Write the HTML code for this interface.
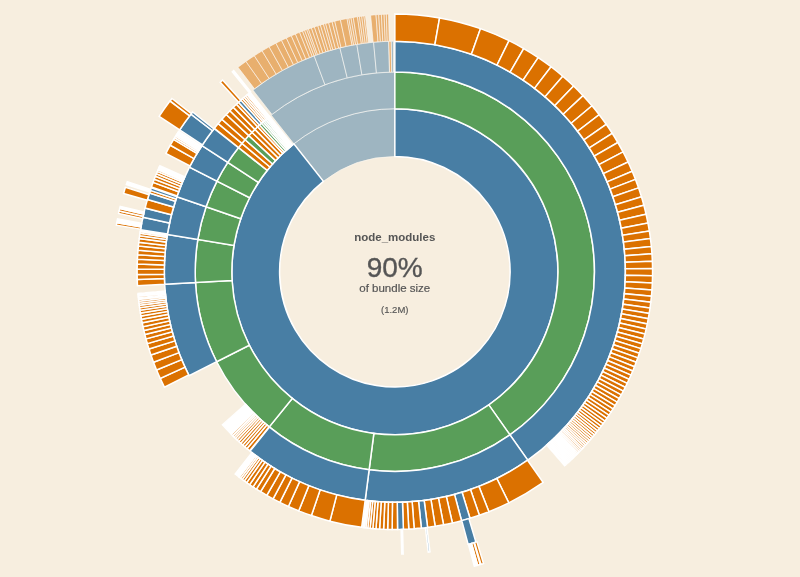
<!DOCTYPE html>
<html><head><meta charset="utf-8"><style>
html,body{margin:0;padding:0;width:800px;height:577px;overflow:hidden;background:#f7eedf;}
svg{position:absolute;left:0;top:0;}
path{stroke:#fff;stroke-width:1.5;} .f{opacity:0.5;stroke-width:0.7;}
.t{position:absolute;left:0;width:789.5px;-webkit-font-smoothing:antialiased;will-change:transform;text-align:center;font-family:"Liberation Sans",sans-serif;color:#555;}
</style></head><body>
<svg width="800" height="577" viewBox="0 0 800 577">
<path d="M293.83,143.83A163.00,163.00 0 0 1 394.85,108.75L394.85,156.49A115.26,115.26 0 0 0 323.42,181.30Z" fill="#487ea4" class="f"/>
<path d="M271.12,115.08A199.63,199.63 0 0 1 394.85,72.12L394.85,108.75A163.00,163.00 0 0 0 293.83,143.83Z" fill="#487ea4" class="f"/>
<path d="M252.93,90.10A230.52,230.52 0 0 1 314.12,55.83L324.94,84.76A199.63,199.63 0 0 0 271.94,114.44Z" fill="#487ea4" class="f"/>
<path d="M314.12,55.83A230.52,230.52 0 0 1 339.86,47.89L347.23,77.88A199.63,199.63 0 0 0 324.94,84.76Z" fill="#487ea4" class="f"/>
<path d="M339.86,47.89A230.52,230.52 0 0 1 356.80,44.39L361.90,74.85A199.63,199.63 0 0 0 347.23,77.88Z" fill="#487ea4" class="f"/>
<path d="M356.80,44.39A230.52,230.52 0 0 1 373.56,42.22L376.41,72.97A199.63,199.63 0 0 0 361.90,74.85Z" fill="#487ea4" class="f"/>
<path d="M373.56,42.22A230.52,230.52 0 0 1 388.61,41.32L389.45,72.19A199.63,199.63 0 0 0 376.41,72.97Z" fill="#487ea4" class="f"/>
<path d="M388.82,41.31A230.52,230.52 0 0 1 391.15,41.26L391.64,72.14A199.63,199.63 0 0 0 389.62,72.18Z" fill="#db7100" class="f"/>
<path d="M391.31,41.26A230.52,230.52 0 0 1 393.32,41.24L393.53,72.12A199.63,199.63 0 0 0 391.78,72.14Z" fill="#487ea4" class="f"/>
<path d="M237.96,67.28A257.73,257.73 0 0 1 245.92,61.41L261.64,83.62A230.52,230.52 0 0 0 254.52,88.87Z" fill="#db7100" class="f"/>
<path d="M245.92,61.41A257.73,257.73 0 0 1 254.29,55.73L269.13,78.53A230.52,230.52 0 0 0 261.64,83.62Z" fill="#db7100" class="f"/>
<path d="M254.29,55.73A257.73,257.73 0 0 1 262.11,50.84L276.13,74.16A230.52,230.52 0 0 0 269.13,78.53Z" fill="#db7100" class="f"/>
<path d="M262.11,50.84A257.73,257.73 0 0 1 269.12,46.78L282.39,70.53A230.52,230.52 0 0 0 276.13,74.16Z" fill="#db7100" class="f"/>
<path d="M269.12,46.78A257.73,257.73 0 0 1 275.85,43.14L288.41,67.28A230.52,230.52 0 0 0 282.39,70.53Z" fill="#db7100" class="f"/>
<path d="M275.85,43.14A257.73,257.73 0 0 1 281.47,40.31L293.44,64.74A230.52,230.52 0 0 0 288.41,67.28Z" fill="#db7100" class="f"/>
<path d="M281.47,40.31A257.73,257.73 0 0 1 286.34,37.98L297.79,62.66A230.52,230.52 0 0 0 293.44,64.74Z" fill="#db7100" class="f"/>
<path d="M286.34,37.98A257.73,257.73 0 0 1 291.26,35.76L302.19,60.67A230.52,230.52 0 0 0 297.79,62.66Z" fill="#db7100" class="f"/>
<path d="M291.26,35.76A257.73,257.73 0 0 1 295.39,33.99L305.89,59.09A230.52,230.52 0 0 0 302.19,60.67Z" fill="#db7100" class="f"/>
<path d="M295.39,33.99A257.73,257.73 0 0 1 299.56,32.29L309.62,57.57A230.52,230.52 0 0 0 305.89,59.09Z" fill="#db7100" class="f"/>
<path d="M299.56,32.29A257.73,257.73 0 0 1 302.49,31.14L312.24,56.54A230.52,230.52 0 0 0 309.62,57.57Z" fill="#db7100" class="f"/>
<path d="M302.49,31.14A257.73,257.73 0 0 1 304.59,30.35L314.12,55.83A230.52,230.52 0 0 0 312.24,56.54Z" fill="#db7100" class="f"/>
<path d="M304.59,30.35A257.73,257.73 0 0 1 306.70,29.57L316.01,55.14A230.52,230.52 0 0 0 314.12,55.83Z" fill="#db7100" class="f"/>
<path d="M306.70,29.57A257.73,257.73 0 0 1 308.40,28.96L317.52,54.59A230.52,230.52 0 0 0 316.01,55.14Z" fill="#db7100" class="f"/>
<path d="M308.40,28.96A257.73,257.73 0 0 1 311.37,27.92L320.18,53.66A230.52,230.52 0 0 0 317.52,54.59Z" fill="#db7100" class="f"/>
<path d="M311.37,27.92A257.73,257.73 0 0 1 314.35,26.92L322.85,52.77A230.52,230.52 0 0 0 320.18,53.66Z" fill="#db7100" class="f"/>
<path d="M314.35,26.92A257.73,257.73 0 0 1 317.78,25.82L325.92,51.78A230.52,230.52 0 0 0 322.85,52.77Z" fill="#db7100" class="f"/>
<path d="M317.78,25.82A257.73,257.73 0 0 1 320.36,25.02L328.22,51.07A230.52,230.52 0 0 0 325.92,51.78Z" fill="#db7100" class="f"/>
<path d="M320.36,25.02A257.73,257.73 0 0 1 323.38,24.13L330.92,50.27A230.52,230.52 0 0 0 328.22,51.07Z" fill="#db7100" class="f"/>
<path d="M323.38,24.13A257.73,257.73 0 0 1 325.54,23.52L332.86,49.72A230.52,230.52 0 0 0 330.92,50.27Z" fill="#db7100" class="f"/>
<path d="M325.54,23.52A257.73,257.73 0 0 1 328.58,22.69L335.58,48.98A230.52,230.52 0 0 0 332.86,49.72Z" fill="#db7100" class="f"/>
<path d="M328.58,22.69A257.73,257.73 0 0 1 332.06,21.79L338.69,48.18A230.52,230.52 0 0 0 335.58,48.98Z" fill="#db7100" class="f"/>
<path d="M332.06,21.79A257.73,257.73 0 0 1 334.69,21.15L341.04,47.60A230.52,230.52 0 0 0 338.69,48.18Z" fill="#db7100" class="f"/>
<path d="M334.69,21.15A257.73,257.73 0 0 1 340.39,19.84L346.14,46.44A230.52,230.52 0 0 0 341.04,47.60Z" fill="#db7100" class="f"/>
<path d="M340.39,19.84A257.73,257.73 0 0 1 347.00,18.51L352.05,45.24A230.52,230.52 0 0 0 346.14,46.44Z" fill="#db7100" class="f"/>
<path d="M347.00,18.51A257.73,257.73 0 0 1 348.77,18.18L353.63,44.95A230.52,230.52 0 0 0 352.05,45.24Z" fill="#db7100" class="f"/>
<path d="M348.77,18.18A257.73,257.73 0 0 1 350.98,17.79L355.61,44.60A230.52,230.52 0 0 0 353.63,44.95Z" fill="#db7100" class="f"/>
<path d="M350.98,17.79A257.73,257.73 0 0 1 353.20,17.41L357.60,44.26A230.52,230.52 0 0 0 355.61,44.60Z" fill="#db7100" class="f"/>
<path d="M353.20,17.41A257.73,257.73 0 0 1 357.42,16.76L361.37,43.68A230.52,230.52 0 0 0 357.60,44.26Z" fill="#db7100" class="f"/>
<path d="M357.42,16.76A257.73,257.73 0 0 1 359.43,16.47L363.17,43.42A230.52,230.52 0 0 0 361.37,43.68Z" fill="#db7100" class="f"/>
<path d="M359.43,16.47A257.73,257.73 0 0 1 361.66,16.17L365.16,43.15A230.52,230.52 0 0 0 363.17,43.42Z" fill="#db7100" class="f"/>
<path d="M361.66,16.17A257.73,257.73 0 0 1 363.89,15.89L367.16,42.90A230.52,230.52 0 0 0 365.16,43.15Z" fill="#db7100" class="f"/>
<path d="M363.89,15.89A257.73,257.73 0 0 1 365.45,15.71L368.55,42.74A230.52,230.52 0 0 0 367.16,42.90Z" fill="#db7100" class="f"/>
<path d="M370.60,15.17A257.73,257.73 0 0 1 375.97,14.72L377.97,41.85A230.52,230.52 0 0 0 373.16,42.26Z" fill="#db7100" class="f"/>
<path d="M375.97,14.72A257.73,257.73 0 0 1 378.67,14.53L380.38,41.69A230.52,230.52 0 0 0 377.97,41.85Z" fill="#db7100" class="f"/>
<path d="M378.67,14.53A257.73,257.73 0 0 1 381.36,14.38L382.79,41.55A230.52,230.52 0 0 0 380.38,41.69Z" fill="#db7100" class="f"/>
<path d="M381.36,14.38A257.73,257.73 0 0 1 384.06,14.25L385.20,41.44A230.52,230.52 0 0 0 382.79,41.55Z" fill="#db7100" class="f"/>
<path d="M384.06,14.25A257.73,257.73 0 0 1 386.31,14.17L387.21,41.36A230.52,230.52 0 0 0 385.20,41.44Z" fill="#db7100" class="f"/>
<path d="M386.31,14.17A257.73,257.73 0 0 1 388.55,14.10L389.22,41.30A230.52,230.52 0 0 0 387.21,41.36Z" fill="#db7100" class="f"/>
<path d="M394.85,108.75A163.00,163.00 0 1 1 293.83,143.83L323.42,181.30A115.26,115.26 0 1 0 394.85,156.49Z" fill="#487ea4"/>
<path d="M394.85,72.12A199.63,199.63 0 0 1 509.93,434.88L488.81,404.94A163.00,163.00 0 0 0 394.85,108.75Z" fill="#599e59"/>
<path d="M394.85,41.23A230.52,230.52 0 0 1 527.73,460.12L509.93,434.88A199.63,199.63 0 0 0 394.85,72.12Z" fill="#487ea4"/>
<path d="M394.85,14.02A257.73,257.73 0 0 1 439.60,17.94L434.88,44.74A230.52,230.52 0 0 0 394.85,41.23Z" fill="#db7100"/>
<path d="M439.60,17.94A257.73,257.73 0 0 1 480.46,28.66L471.42,54.32A230.52,230.52 0 0 0 434.88,44.74Z" fill="#db7100"/>
<path d="M480.46,28.66A257.73,257.73 0 0 1 509.04,40.70L496.99,65.09A230.52,230.52 0 0 0 471.42,54.32Z" fill="#db7100"/>
<path d="M509.04,40.70A257.73,257.73 0 0 1 523.71,48.55L510.11,72.12A230.52,230.52 0 0 0 496.99,65.09Z" fill="#db7100"/>
<path d="M523.71,48.55A257.73,257.73 0 0 1 538.22,57.58L523.09,80.19A230.52,230.52 0 0 0 510.11,72.12Z" fill="#db7100"/>
<path d="M538.22,57.58A257.73,257.73 0 0 1 551.03,66.74L534.54,88.38A230.52,230.52 0 0 0 523.09,80.19Z" fill="#db7100"/>
<path d="M551.03,66.74A257.73,257.73 0 0 1 562.74,76.21L545.02,96.86A230.52,230.52 0 0 0 534.54,88.38Z" fill="#db7100"/>
<path d="M562.74,76.21A257.73,257.73 0 0 1 573.56,86.05L554.69,105.65A230.52,230.52 0 0 0 545.02,96.86Z" fill="#db7100"/>
<path d="M573.56,86.05A257.73,257.73 0 0 1 583.03,95.65L563.16,114.24A230.52,230.52 0 0 0 554.69,105.65Z" fill="#db7100"/>
<path d="M583.03,95.65A257.73,257.73 0 0 1 591.99,105.74L571.18,123.27A230.52,230.52 0 0 0 563.16,114.24Z" fill="#db7100"/>
<path d="M591.99,105.74A257.73,257.73 0 0 1 599.18,114.68L577.61,131.26A230.52,230.52 0 0 0 571.18,123.27Z" fill="#db7100"/>
<path d="M599.18,114.68A257.73,257.73 0 0 1 606.22,124.29L583.91,139.86A230.52,230.52 0 0 0 577.61,131.26Z" fill="#db7100"/>
<path d="M606.22,124.29A257.73,257.73 0 0 1 612.21,133.27L589.27,147.89A230.52,230.52 0 0 0 583.91,139.86Z" fill="#db7100"/>
<path d="M612.21,133.27A257.73,257.73 0 0 1 617.82,142.50L594.28,156.14A230.52,230.52 0 0 0 589.27,147.89Z" fill="#db7100"/>
<path d="M617.82,142.50A257.73,257.73 0 0 1 623.04,151.95L598.95,164.60A230.52,230.52 0 0 0 594.28,156.14Z" fill="#db7100"/>
<path d="M623.04,151.95A257.73,257.73 0 0 1 628.05,162.02L603.43,173.60A230.52,230.52 0 0 0 598.95,164.60Z" fill="#db7100"/>
<path d="M628.05,162.02A257.73,257.73 0 0 1 632.18,171.26L607.12,181.87A230.52,230.52 0 0 0 603.43,173.60Z" fill="#db7100"/>
<path d="M632.18,171.26A257.73,257.73 0 0 1 635.46,179.39L610.06,189.14A230.52,230.52 0 0 0 607.12,181.87Z" fill="#db7100"/>
<path d="M635.46,179.39A257.73,257.73 0 0 1 638.53,187.84L612.81,196.70A230.52,230.52 0 0 0 610.06,189.14Z" fill="#db7100"/>
<path d="M638.53,187.84A257.73,257.73 0 0 1 641.45,196.83L615.41,204.74A230.52,230.52 0 0 0 612.81,196.70Z" fill="#db7100"/>
<path d="M641.45,196.83A257.73,257.73 0 0 1 643.85,205.26L617.56,212.28A230.52,230.52 0 0 0 615.41,204.74Z" fill="#db7100"/>
<path d="M643.85,205.26A257.73,257.73 0 0 1 646.07,214.21L619.55,220.29A230.52,230.52 0 0 0 617.56,212.28Z" fill="#db7100"/>
<path d="M646.07,214.21A257.73,257.73 0 0 1 647.93,223.02L621.21,228.16A230.52,230.52 0 0 0 619.55,220.29Z" fill="#db7100"/>
<path d="M647.93,223.02A257.73,257.73 0 0 1 649.33,230.99L622.47,235.29A230.52,230.52 0 0 0 621.21,228.16Z" fill="#db7100"/>
<path d="M649.33,230.99A257.73,257.73 0 0 1 650.43,238.56L623.45,242.06A230.52,230.52 0 0 0 622.47,235.29Z" fill="#db7100"/>
<path d="M650.43,238.56A257.73,257.73 0 0 1 651.35,246.60L624.27,249.26A230.52,230.52 0 0 0 623.45,242.06Z" fill="#db7100"/>
<path d="M651.35,246.60A257.73,257.73 0 0 1 651.95,253.77L624.81,255.67A230.52,230.52 0 0 0 624.27,249.26Z" fill="#db7100"/>
<path d="M651.95,253.77A257.73,257.73 0 0 1 652.36,261.18L625.17,262.30A230.52,230.52 0 0 0 624.81,255.67Z" fill="#db7100"/>
<path d="M652.36,261.18A257.73,257.73 0 0 1 652.55,268.42L625.35,268.77A230.52,230.52 0 0 0 625.17,262.30Z" fill="#db7100"/>
<path d="M652.55,268.42A257.73,257.73 0 0 1 652.54,275.80L625.34,275.37A230.52,230.52 0 0 0 625.35,268.77Z" fill="#db7100"/>
<path d="M652.54,275.80A257.73,257.73 0 0 1 652.33,282.99L625.15,281.81A230.52,230.52 0 0 0 625.34,275.37Z" fill="#db7100"/>
<path d="M652.33,282.99A257.73,257.73 0 0 1 651.94,289.91L624.79,287.99A230.52,230.52 0 0 0 625.15,281.81Z" fill="#db7100"/>
<path d="M651.94,289.91A257.73,257.73 0 0 1 651.41,296.27L624.32,293.68A230.52,230.52 0 0 0 624.79,287.99Z" fill="#db7100"/>
<path d="M651.41,296.27A257.73,257.73 0 0 1 650.77,302.18L623.75,298.96A230.52,230.52 0 0 0 624.32,293.68Z" fill="#db7100"/>
<path d="M650.77,302.18A257.73,257.73 0 0 1 650.01,308.02L623.07,304.19A230.52,230.52 0 0 0 623.75,298.96Z" fill="#db7100"/>
<path d="M650.01,308.02A257.73,257.73 0 0 1 649.19,313.40L622.34,309.00A230.52,230.52 0 0 0 623.07,304.19Z" fill="#db7100"/>
<path d="M649.19,313.40A257.73,257.73 0 0 1 648.26,318.72L621.51,313.76A230.52,230.52 0 0 0 622.34,309.00Z" fill="#db7100"/>
<path d="M648.26,318.72A257.73,257.73 0 0 1 647.24,323.94L620.59,318.43A230.52,230.52 0 0 0 621.51,313.76Z" fill="#db7100"/>
<path d="M647.24,323.94A257.73,257.73 0 0 1 646.12,329.07L619.59,323.02A230.52,230.52 0 0 0 620.59,318.43Z" fill="#db7100"/>
<path d="M646.12,329.07A257.73,257.73 0 0 1 644.92,334.10L618.52,327.52A230.52,230.52 0 0 0 619.59,323.02Z" fill="#db7100"/>
<path d="M644.92,334.10A257.73,257.73 0 0 1 643.64,339.04L617.37,331.93A230.52,230.52 0 0 0 618.52,327.52Z" fill="#db7100"/>
<path d="M643.64,339.04A257.73,257.73 0 0 1 642.28,343.88L616.16,336.26A230.52,230.52 0 0 0 617.37,331.93Z" fill="#db7100"/>
<path d="M642.28,343.88A257.73,257.73 0 0 1 640.84,348.63L614.87,340.51A230.52,230.52 0 0 0 616.16,336.26Z" fill="#db7100"/>
<path d="M640.84,348.63A257.73,257.73 0 0 1 639.34,353.28L613.53,344.67A230.52,230.52 0 0 0 614.87,340.51Z" fill="#db7100"/>
<path d="M639.34,353.28A257.73,257.73 0 0 1 637.77,357.84L612.13,348.75A230.52,230.52 0 0 0 613.53,344.67Z" fill="#db7100"/>
<path d="M637.77,357.84A257.73,257.73 0 0 1 636.14,362.30L610.67,352.74A230.52,230.52 0 0 0 612.13,348.75Z" fill="#db7100"/>
<path d="M636.14,362.30A257.73,257.73 0 0 1 634.45,366.68L609.16,356.66A230.52,230.52 0 0 0 610.67,352.74Z" fill="#db7100"/>
<path d="M634.45,366.68A257.73,257.73 0 0 1 632.71,370.97L607.60,360.50A230.52,230.52 0 0 0 609.16,356.66Z" fill="#db7100"/>
<path d="M632.71,370.97A257.73,257.73 0 0 1 630.91,375.18L605.99,364.26A230.52,230.52 0 0 0 607.60,360.50Z" fill="#db7100"/>
<path d="M630.91,375.18A257.73,257.73 0 0 1 629.06,379.30L604.34,367.95A230.52,230.52 0 0 0 605.99,364.26Z" fill="#db7100"/>
<path d="M629.06,379.30A257.73,257.73 0 0 1 627.17,383.34L602.64,371.56A230.52,230.52 0 0 0 604.34,367.95Z" fill="#db7100"/>
<path d="M627.17,383.34A257.73,257.73 0 0 1 625.22,387.29L600.90,375.09A230.52,230.52 0 0 0 602.64,371.56Z" fill="#db7100"/>
<path d="M625.22,387.29A257.73,257.73 0 0 1 623.24,391.16L599.13,378.56A230.52,230.52 0 0 0 600.90,375.09Z" fill="#db7100"/>
<path d="M623.24,391.16A257.73,257.73 0 0 1 621.22,394.95L597.32,381.95A230.52,230.52 0 0 0 599.13,378.56Z" fill="#db7100"/>
<path d="M621.22,394.95A257.73,257.73 0 0 1 619.18,398.64L595.49,385.24A230.52,230.52 0 0 0 597.32,381.95Z" fill="#db7100"/>
<path d="M619.18,398.64A257.73,257.73 0 0 1 617.13,402.19L593.66,388.42A230.52,230.52 0 0 0 595.49,385.24Z" fill="#db7100"/>
<path d="M617.13,402.19A257.73,257.73 0 0 1 615.08,405.63L591.83,391.49A230.52,230.52 0 0 0 593.66,388.42Z" fill="#db7100"/>
<path d="M615.08,405.63A257.73,257.73 0 0 1 613.02,408.95L589.99,394.46A230.52,230.52 0 0 0 591.83,391.49Z" fill="#db7100"/>
<path d="M613.02,408.95A257.73,257.73 0 0 1 610.97,412.15L588.16,397.33A230.52,230.52 0 0 0 589.99,394.46Z" fill="#db7100"/>
<path d="M610.97,412.15A257.73,257.73 0 0 1 608.93,415.25L586.33,400.10A230.52,230.52 0 0 0 588.16,397.33Z" fill="#db7100"/>
<path d="M608.93,415.25A257.73,257.73 0 0 1 606.89,418.24L584.51,402.77A230.52,230.52 0 0 0 586.33,400.10Z" fill="#db7100"/>
<path d="M606.89,418.24A257.73,257.73 0 0 1 604.91,421.07L582.74,405.31A230.52,230.52 0 0 0 584.51,402.77Z" fill="#db7100"/>
<path d="M604.91,421.07A257.73,257.73 0 0 1 602.99,423.73L581.02,407.69A230.52,230.52 0 0 0 582.74,405.31Z" fill="#db7100"/>
<path d="M602.99,423.73A257.73,257.73 0 0 1 601.14,426.24L579.36,409.93A230.52,230.52 0 0 0 581.02,407.69Z" fill="#db7100"/>
<path d="M601.14,426.24A257.73,257.73 0 0 1 599.35,428.60L577.76,412.04A230.52,230.52 0 0 0 579.36,409.93Z" fill="#db7100"/>
<path d="M599.35,428.60A257.73,257.73 0 0 1 597.63,430.82L576.22,414.03A230.52,230.52 0 0 0 577.76,412.04Z" fill="#db7100"/>
<path d="M597.63,430.82A257.73,257.73 0 0 1 595.96,432.92L574.73,415.91A230.52,230.52 0 0 0 576.22,414.03Z" fill="#db7100"/>
<path d="M595.96,432.92A257.73,257.73 0 0 1 594.34,434.92L573.28,417.69A230.52,230.52 0 0 0 574.73,415.91Z" fill="#db7100"/>
<path d="M594.34,434.92A257.73,257.73 0 0 1 592.77,436.82L571.88,419.40A230.52,230.52 0 0 0 573.28,417.69Z" fill="#db7100"/>
<path d="M592.77,436.82A257.73,257.73 0 0 1 591.25,438.64L570.51,421.02A230.52,230.52 0 0 0 571.88,419.40Z" fill="#db7100"/>
<path d="M591.25,438.64A257.73,257.73 0 0 1 589.76,440.36L569.19,422.56A230.52,230.52 0 0 0 570.51,421.02Z" fill="#db7100"/>
<path d="M589.76,440.36A257.73,257.73 0 0 1 588.33,442.01L567.90,424.04A230.52,230.52 0 0 0 569.19,422.56Z" fill="#db7100"/>
<path d="M588.33,442.01A257.73,257.73 0 0 1 586.93,443.59L566.65,425.44A230.52,230.52 0 0 0 567.90,424.04Z" fill="#db7100"/>
<path d="M586.93,443.59A257.73,257.73 0 0 1 585.57,445.10L565.43,426.80A230.52,230.52 0 0 0 566.65,425.44Z" fill="#db7100"/>
<path d="M585.57,445.10A257.73,257.73 0 0 1 584.24,446.55L564.24,428.10A230.52,230.52 0 0 0 565.43,426.80Z" fill="#db7100"/>
<path d="M584.24,446.55A257.73,257.73 0 0 1 582.94,447.94L563.08,429.34A230.52,230.52 0 0 0 564.24,428.10Z" fill="#db7100"/>
<path d="M582.94,447.94A257.73,257.73 0 0 1 581.68,449.28L561.95,430.54A230.52,230.52 0 0 0 563.08,429.34Z" fill="#db7100"/>
<path d="M581.68,449.28A257.73,257.73 0 0 1 580.45,450.57L560.85,431.69A230.52,230.52 0 0 0 561.95,430.54Z" fill="#db7100"/>
<path d="M580.45,450.57A257.73,257.73 0 0 1 579.25,451.80L559.78,432.79A230.52,230.52 0 0 0 560.85,431.69Z" fill="#db7100"/>
<path d="M579.25,451.80A257.73,257.73 0 0 1 578.08,452.99L558.74,433.86A230.52,230.52 0 0 0 559.78,432.79Z" fill="#db7100"/>
<path d="M578.08,452.99A257.73,257.73 0 0 1 576.94,454.14L557.72,434.88A230.52,230.52 0 0 0 558.74,433.86Z" fill="#db7100"/>
<path d="M576.94,454.14A257.73,257.73 0 0 1 575.83,455.24L556.72,435.87A230.52,230.52 0 0 0 557.72,434.88Z" fill="#db7100"/>
<path d="M575.83,455.24A257.73,257.73 0 0 1 574.74,456.31L555.75,436.82A230.52,230.52 0 0 0 556.72,435.87Z" fill="#db7100"/>
<path d="M574.74,456.31A257.73,257.73 0 0 1 573.68,457.33L554.80,437.74A230.52,230.52 0 0 0 555.75,436.82Z" fill="#db7100"/>
<path d="M573.68,457.33A257.73,257.73 0 0 1 572.65,458.33L553.88,438.63A230.52,230.52 0 0 0 554.80,437.74Z" fill="#db7100"/>
<path d="M572.65,458.33A257.73,257.73 0 0 1 571.62,459.30L552.95,439.50A230.52,230.52 0 0 0 553.88,438.63Z" fill="#db7100"/>
<path d="M571.62,459.30A257.73,257.73 0 0 1 570.59,460.27L552.04,440.36A230.52,230.52 0 0 0 552.95,439.50Z" fill="#db7100"/>
<path d="M570.59,460.27A257.73,257.73 0 0 1 569.57,461.21L551.12,441.21A230.52,230.52 0 0 0 552.04,440.36Z" fill="#db7100"/>
<path d="M569.57,461.21A257.73,257.73 0 0 1 568.56,462.14L550.22,442.04A230.52,230.52 0 0 0 551.12,441.21Z" fill="#db7100"/>
<path d="M568.56,462.14A257.73,257.73 0 0 1 567.55,463.06L549.32,442.86A230.52,230.52 0 0 0 550.22,442.04Z" fill="#db7100"/>
<path d="M567.55,463.06A257.73,257.73 0 0 1 566.55,463.96L548.42,443.66A230.52,230.52 0 0 0 549.32,442.86Z" fill="#db7100"/>
<path d="M566.55,463.96A257.73,257.73 0 0 1 565.55,464.84L547.53,444.46A230.52,230.52 0 0 0 548.42,443.66Z" fill="#db7100"/>
<path d="M565.55,464.84A257.73,257.73 0 0 1 564.61,465.67L546.69,445.19A230.52,230.52 0 0 0 547.53,444.46Z" fill="#db7100"/>
<path d="M509.93,434.88A199.63,199.63 0 0 1 369.14,469.72L373.86,433.39A163.00,163.00 0 0 0 488.81,404.94Z" fill="#599e59"/>
<path d="M527.73,460.12A230.52,230.52 0 0 1 365.16,500.35L369.14,469.72A199.63,199.63 0 0 0 509.93,434.88Z" fill="#487ea4"/>
<path d="M543.23,482.48A257.73,257.73 0 0 1 508.84,502.90L496.80,478.49A230.52,230.52 0 0 0 527.56,460.23Z" fill="#db7100"/>
<path d="M508.84,502.90A257.73,257.73 0 0 1 488.89,511.71L478.96,486.37A230.52,230.52 0 0 0 496.80,478.49Z" fill="#db7100"/>
<path d="M488.89,511.71A257.73,257.73 0 0 1 479.39,515.21L470.47,489.51A230.52,230.52 0 0 0 478.96,486.37Z" fill="#db7100"/>
<path d="M479.39,515.21A257.73,257.73 0 0 1 469.99,518.28L462.05,492.25A230.52,230.52 0 0 0 470.47,489.51Z" fill="#db7100"/>
<path d="M469.99,518.28A257.73,257.73 0 0 1 461.55,520.69L454.51,494.41A230.52,230.52 0 0 0 462.05,492.25Z" fill="#487ea4"/>
<path d="M461.55,520.69A257.73,257.73 0 0 1 452.39,522.97L446.31,496.45A230.52,230.52 0 0 0 454.51,494.41Z" fill="#db7100"/>
<path d="M452.39,522.97A257.73,257.73 0 0 1 443.58,524.83L438.44,498.11A230.52,230.52 0 0 0 446.31,496.45Z" fill="#db7100"/>
<path d="M443.58,524.83A257.73,257.73 0 0 1 435.17,526.30L430.91,499.43A230.52,230.52 0 0 0 438.44,498.11Z" fill="#db7100"/>
<path d="M435.17,526.30A257.73,257.73 0 0 1 427.60,527.39L424.14,500.40A230.52,230.52 0 0 0 430.91,499.43Z" fill="#db7100"/>
<path d="M427.60,527.39A257.73,257.73 0 0 1 421.34,528.11L418.55,501.05A230.52,230.52 0 0 0 424.14,500.40Z" fill="#487ea4"/>
<path d="M421.34,528.11A257.73,257.73 0 0 1 414.17,528.75L412.13,501.62A230.52,230.52 0 0 0 418.55,501.05Z" fill="#db7100"/>
<path d="M414.17,528.75A257.73,257.73 0 0 1 408.79,529.10L407.32,501.93A230.52,230.52 0 0 0 412.13,501.62Z" fill="#db7100"/>
<path d="M408.79,529.10A257.73,257.73 0 0 1 403.39,529.33L402.49,502.14A230.52,230.52 0 0 0 407.32,501.93Z" fill="#db7100"/>
<path d="M403.39,529.33A257.73,257.73 0 0 1 397.55,529.46L397.26,502.25A230.52,230.52 0 0 0 402.49,502.14Z" fill="#487ea4"/>
<path d="M397.55,529.46A257.73,257.73 0 0 1 392.15,529.46L392.44,502.25A230.52,230.52 0 0 0 397.26,502.25Z" fill="#db7100"/>
<path d="M392.15,529.46A257.73,257.73 0 0 1 387.65,529.38L388.41,502.18A230.52,230.52 0 0 0 392.44,502.25Z" fill="#db7100"/>
<path d="M387.65,529.38A257.73,257.73 0 0 1 383.61,529.23L384.79,502.05A230.52,230.52 0 0 0 388.41,502.18Z" fill="#db7100"/>
<path d="M383.61,529.23A257.73,257.73 0 0 1 379.57,529.02L381.18,501.86A230.52,230.52 0 0 0 384.79,502.05Z" fill="#db7100"/>
<path d="M379.57,529.02A257.73,257.73 0 0 1 375.97,528.78L377.97,501.65A230.52,230.52 0 0 0 381.18,501.86Z" fill="#db7100"/>
<path d="M375.97,528.78A257.73,257.73 0 0 1 372.84,528.53L375.16,501.42A230.52,230.52 0 0 0 377.97,501.65Z" fill="#db7100"/>
<path d="M372.84,528.53A257.73,257.73 0 0 1 370.09,528.28L372.71,501.20A230.52,230.52 0 0 0 375.16,501.42Z" fill="#db7100"/>
<path d="M370.09,528.28A257.73,257.73 0 0 1 367.81,528.05L370.66,500.99A230.52,230.52 0 0 0 372.71,501.20Z" fill="#db7100"/>
<path d="M367.81,528.05A257.73,257.73 0 0 1 365.90,527.84L368.96,500.81A230.52,230.52 0 0 0 370.66,500.99Z" fill="#db7100"/>
<path d="M365.90,527.84A257.73,257.73 0 0 1 364.32,527.66L367.54,500.64A230.52,230.52 0 0 0 368.96,500.81Z" fill="#db7100"/>
<path d="M364.32,527.66A257.73,257.73 0 0 1 362.99,527.50L366.36,500.50A230.52,230.52 0 0 0 367.54,500.64Z" fill="#db7100"/>
<path d="M475.98,542.17A282.32,282.32 0 0 1 468.16,544.39L461.77,520.64A257.73,257.73 0 0 0 468.91,518.61Z" fill="#487ea4"/>
<path d="M483.50,563.53A304.95,304.95 0 0 1 480.95,564.29L474.56,542.59A282.32,282.32 0 0 0 476.92,541.88Z" fill="#db7100"/>
<path d="M480.18,564.51A304.95,304.95 0 0 1 477.62,565.25L471.48,543.47A282.32,282.32 0 0 0 473.85,542.80Z" fill="#db7100"/>
<path d="M477.62,565.25A304.95,304.95 0 0 1 474.29,566.17L468.40,544.33A282.32,282.32 0 0 0 471.48,543.47Z" fill="#fff"/>
<path d="M429.99,551.88A282.32,282.32 0 0 1 428.28,552.09L425.37,527.66A257.73,257.73 0 0 0 426.93,527.47Z" fill="#487ea4"/>
<path d="M403.23,553.95A282.32,282.32 0 0 1 401.75,553.99L401.15,529.40A257.73,257.73 0 0 0 402.50,529.36Z" fill="#487ea4"/>
<path d="M369.14,469.72A199.63,199.63 0 0 1 269.22,426.89L292.27,398.42A163.00,163.00 0 0 0 373.86,433.39Z" fill="#599e59"/>
<path d="M365.16,500.35A230.52,230.52 0 0 1 250.09,451.15L269.49,427.11A199.63,199.63 0 0 0 369.14,469.72Z" fill="#487ea4"/>
<path d="M361.66,527.33A257.73,257.73 0 0 1 329.89,521.15L336.74,494.82A230.52,230.52 0 0 0 365.16,500.35Z" fill="#db7100"/>
<path d="M329.89,521.15A257.73,257.73 0 0 1 311.37,515.58L320.18,489.84A230.52,230.52 0 0 0 336.74,494.82Z" fill="#db7100"/>
<path d="M311.37,515.58A257.73,257.73 0 0 1 298.72,510.88L308.87,485.63A230.52,230.52 0 0 0 320.18,489.84Z" fill="#db7100"/>
<path d="M298.72,510.88A257.73,257.73 0 0 1 288.38,506.46L299.62,481.68A230.52,230.52 0 0 0 308.87,485.63Z" fill="#db7100"/>
<path d="M288.38,506.46A257.73,257.73 0 0 1 279.85,502.40L291.99,478.05A230.52,230.52 0 0 0 299.62,481.68Z" fill="#db7100"/>
<path d="M279.85,502.40A257.73,257.73 0 0 1 273.06,498.88L285.92,474.91A230.52,230.52 0 0 0 291.99,478.05Z" fill="#db7100"/>
<path d="M273.06,498.88A257.73,257.73 0 0 1 266.77,495.40L280.29,471.78A230.52,230.52 0 0 0 285.92,474.91Z" fill="#db7100"/>
<path d="M266.77,495.40A257.73,257.73 0 0 1 260.57,491.73L274.75,468.51A230.52,230.52 0 0 0 280.29,471.78Z" fill="#db7100"/>
<path d="M260.57,491.73A257.73,257.73 0 0 1 256.37,489.11L270.99,466.17A230.52,230.52 0 0 0 274.75,468.51Z" fill="#db7100"/>
<path d="M256.37,489.11A257.73,257.73 0 0 1 252.98,486.91L267.95,464.20A230.52,230.52 0 0 0 270.99,466.17Z" fill="#db7100"/>
<path d="M252.98,486.91A257.73,257.73 0 0 1 249.61,484.66L264.95,462.18A230.52,230.52 0 0 0 267.95,464.20Z" fill="#db7100"/>
<path d="M249.61,484.66A257.73,257.73 0 0 1 246.66,482.61L262.30,460.35A230.52,230.52 0 0 0 264.95,462.18Z" fill="#db7100"/>
<path d="M246.66,482.61A257.73,257.73 0 0 1 244.27,480.91L260.17,458.83A230.52,230.52 0 0 0 262.30,460.35Z" fill="#db7100"/>
<path d="M244.27,480.91A257.73,257.73 0 0 1 242.27,479.46L258.38,457.53A230.52,230.52 0 0 0 260.17,458.83Z" fill="#db7100"/>
<path d="M242.27,479.46A257.73,257.73 0 0 1 240.65,478.25L256.93,456.45A230.52,230.52 0 0 0 258.38,457.53Z" fill="#db7100"/>
<path d="M240.65,478.25A257.73,257.73 0 0 1 239.21,477.17L255.64,455.49A230.52,230.52 0 0 0 256.93,456.45Z" fill="#db7100"/>
<path d="M239.21,477.17A257.73,257.73 0 0 1 235.12,474.01L251.98,452.65A230.52,230.52 0 0 0 255.64,455.49Z" fill="#fff"/>
<path d="M269.22,426.89A199.63,199.63 0 0 1 216.66,361.76L249.36,345.24A163.00,163.00 0 0 0 292.27,398.42Z" fill="#599e59"/>
<path d="M249.62,450.77A230.52,230.52 0 0 1 246.99,448.59L266.80,424.90A199.63,199.63 0 0 0 269.08,426.78Z" fill="#db7100"/>
<path d="M246.99,448.59A230.52,230.52 0 0 1 244.77,446.72L264.88,423.28A199.63,199.63 0 0 0 266.80,424.90Z" fill="#db7100"/>
<path d="M244.77,446.72A230.52,230.52 0 0 1 242.71,444.93L263.09,421.73A199.63,199.63 0 0 0 264.88,423.28Z" fill="#db7100"/>
<path d="M242.71,444.93A230.52,230.52 0 0 1 240.72,443.17L261.37,420.20A199.63,199.63 0 0 0 263.09,421.73Z" fill="#db7100"/>
<path d="M240.72,443.17A230.52,230.52 0 0 1 238.82,441.43L259.72,418.70A199.63,199.63 0 0 0 261.37,420.20Z" fill="#db7100"/>
<path d="M238.82,441.43A230.52,230.52 0 0 1 237.11,439.84L258.24,417.32A199.63,199.63 0 0 0 259.72,418.70Z" fill="#db7100"/>
<path d="M237.11,439.84A230.52,230.52 0 0 1 235.53,438.35L256.88,416.03A199.63,199.63 0 0 0 258.24,417.32Z" fill="#db7100"/>
<path d="M235.53,438.35A230.52,230.52 0 0 1 234.08,436.95L255.62,414.82A199.63,199.63 0 0 0 256.88,416.03Z" fill="#db7100"/>
<path d="M234.08,436.95A230.52,230.52 0 0 1 232.71,435.60L254.43,413.65A199.63,199.63 0 0 0 255.62,414.82Z" fill="#db7100"/>
<path d="M232.71,435.60A230.52,230.52 0 0 1 231.40,434.29L253.29,412.52A199.63,199.63 0 0 0 254.43,413.65Z" fill="#db7100"/>
<path d="M231.40,434.29A230.52,230.52 0 0 1 222.47,424.80L245.56,404.29A199.63,199.63 0 0 0 253.29,412.52Z" fill="#fff"/>
<path d="M216.66,361.76A199.63,199.63 0 0 1 195.51,282.55L232.09,280.56A163.00,163.00 0 0 0 249.36,345.24Z" fill="#599e59"/>
<path d="M189.09,375.68A230.52,230.52 0 0 1 164.67,284.22L195.51,282.55A199.63,199.63 0 0 0 216.66,361.76Z" fill="#487ea4"/>
<path d="M164.40,387.15A257.73,257.73 0 0 1 160.24,378.42L185.01,367.16A230.52,230.52 0 0 0 188.73,374.97Z" fill="#db7100"/>
<path d="M160.24,378.42A257.73,257.73 0 0 1 156.57,369.96L181.73,359.59A230.52,230.52 0 0 0 185.01,367.16Z" fill="#db7100"/>
<path d="M156.57,369.96A257.73,257.73 0 0 1 153.52,362.22L179.00,352.67A230.52,230.52 0 0 0 181.73,359.59Z" fill="#db7100"/>
<path d="M153.52,362.22A257.73,257.73 0 0 1 150.95,355.02L176.70,346.23A230.52,230.52 0 0 0 179.00,352.67Z" fill="#db7100"/>
<path d="M150.95,355.02A257.73,257.73 0 0 1 148.99,349.04L174.94,340.88A230.52,230.52 0 0 0 176.70,346.23Z" fill="#db7100"/>
<path d="M148.99,349.04A257.73,257.73 0 0 1 147.36,343.65L173.49,336.06A230.52,230.52 0 0 0 174.94,340.88Z" fill="#db7100"/>
<path d="M147.36,343.65A257.73,257.73 0 0 1 146.02,338.89L172.29,331.80A230.52,230.52 0 0 0 173.49,336.06Z" fill="#db7100"/>
<path d="M146.02,338.89A257.73,257.73 0 0 1 144.89,334.54L171.28,327.91A230.52,230.52 0 0 0 172.29,331.80Z" fill="#db7100"/>
<path d="M144.89,334.54A257.73,257.73 0 0 1 143.93,330.60L170.42,324.39A230.52,230.52 0 0 0 171.28,327.91Z" fill="#db7100"/>
<path d="M143.93,330.60A257.73,257.73 0 0 1 143.04,326.65L169.62,320.86A230.52,230.52 0 0 0 170.42,324.39Z" fill="#db7100"/>
<path d="M143.04,326.65A257.73,257.73 0 0 1 142.24,322.83L168.91,317.44A230.52,230.52 0 0 0 169.62,320.86Z" fill="#db7100"/>
<path d="M142.24,322.83A257.73,257.73 0 0 1 141.55,319.30L168.29,314.28A230.52,230.52 0 0 0 168.91,317.44Z" fill="#db7100"/>
<path d="M141.55,319.30A257.73,257.73 0 0 1 140.96,316.05L167.76,311.37A230.52,230.52 0 0 0 168.29,314.28Z" fill="#db7100"/>
<path d="M140.96,316.05A257.73,257.73 0 0 1 140.45,313.04L167.31,308.68A230.52,230.52 0 0 0 167.76,311.37Z" fill="#db7100"/>
<path d="M140.45,313.04A257.73,257.73 0 0 1 140.02,310.27L166.92,306.21A230.52,230.52 0 0 0 167.31,308.68Z" fill="#db7100"/>
<path d="M140.02,310.27A257.73,257.73 0 0 1 139.65,307.72L166.59,303.92A230.52,230.52 0 0 0 166.92,306.21Z" fill="#db7100"/>
<path d="M139.65,307.72A257.73,257.73 0 0 1 139.33,305.36L166.30,301.81A230.52,230.52 0 0 0 166.59,303.92Z" fill="#db7100"/>
<path d="M139.33,305.36A257.73,257.73 0 0 1 139.05,303.19L166.05,299.87A230.52,230.52 0 0 0 166.30,301.81Z" fill="#db7100"/>
<path d="M139.05,303.19A257.73,257.73 0 0 1 138.81,301.19L165.84,298.08A230.52,230.52 0 0 0 166.05,299.87Z" fill="#db7100"/>
<path d="M138.81,301.19A257.73,257.73 0 0 1 138.61,299.35L165.66,296.43A230.52,230.52 0 0 0 165.84,298.08Z" fill="#db7100"/>
<path d="M138.61,299.35A257.73,257.73 0 0 1 138.43,297.65L165.50,294.91A230.52,230.52 0 0 0 165.66,296.43Z" fill="#db7100"/>
<path d="M138.43,297.65A257.73,257.73 0 0 1 138.28,296.08L165.36,293.52A230.52,230.52 0 0 0 165.50,294.91Z" fill="#db7100"/>
<path d="M138.28,296.08A257.73,257.73 0 0 1 138.14,294.64L165.24,292.23A230.52,230.52 0 0 0 165.36,293.52Z" fill="#db7100"/>
<path d="M138.14,294.64A257.73,257.73 0 0 1 138.03,293.32L165.14,291.04A230.52,230.52 0 0 0 165.24,292.23Z" fill="#db7100"/>
<path d="M195.51,282.55A199.63,199.63 0 0 1 197.84,239.49L233.99,245.41A163.00,163.00 0 0 0 232.09,280.56Z" fill="#599e59"/>
<path d="M164.67,284.22A230.52,230.52 0 0 1 167.36,234.50L197.84,239.49A199.63,199.63 0 0 0 195.51,282.55Z" fill="#487ea4"/>
<path d="M137.50,285.69A257.73,257.73 0 0 1 137.24,279.40L164.43,278.59A230.52,230.52 0 0 0 164.67,284.22Z" fill="#db7100"/>
<path d="M137.24,279.40A257.73,257.73 0 0 1 137.14,274.45L164.35,274.16A230.52,230.52 0 0 0 164.43,278.59Z" fill="#db7100"/>
<path d="M137.14,274.45A257.73,257.73 0 0 1 137.14,269.05L164.35,269.34A230.52,230.52 0 0 0 164.35,274.16Z" fill="#db7100"/>
<path d="M137.14,269.05A257.73,257.73 0 0 1 137.24,264.10L164.43,264.91A230.52,230.52 0 0 0 164.35,269.34Z" fill="#db7100"/>
<path d="M137.24,264.10A257.73,257.73 0 0 1 137.43,259.16L164.61,260.49A230.52,230.52 0 0 0 164.43,264.91Z" fill="#db7100"/>
<path d="M137.43,259.16A257.73,257.73 0 0 1 137.69,254.67L164.84,256.47A230.52,230.52 0 0 0 164.61,260.49Z" fill="#db7100"/>
<path d="M137.69,254.67A257.73,257.73 0 0 1 138.03,250.18L165.14,252.46A230.52,230.52 0 0 0 164.84,256.47Z" fill="#db7100"/>
<path d="M138.03,250.18A257.73,257.73 0 0 1 138.42,245.93L165.49,248.65A230.52,230.52 0 0 0 165.14,252.46Z" fill="#db7100"/>
<path d="M138.42,245.93A257.73,257.73 0 0 1 138.81,242.35L165.84,245.45A230.52,230.52 0 0 0 165.49,248.65Z" fill="#db7100"/>
<path d="M138.81,242.35A257.73,257.73 0 0 1 139.27,238.56L166.25,242.06A230.52,230.52 0 0 0 165.84,245.45Z" fill="#db7100"/>
<path d="M139.27,238.56A257.73,257.73 0 0 1 139.66,235.66L166.60,239.47A230.52,230.52 0 0 0 166.25,242.06Z" fill="#db7100"/>
<path d="M139.66,235.66A257.73,257.73 0 0 1 140.02,233.21L166.93,237.28A230.52,230.52 0 0 0 166.60,239.47Z" fill="#db7100"/>
<path d="M140.02,233.21A257.73,257.73 0 0 1 140.29,231.51L167.16,235.76A230.52,230.52 0 0 0 166.93,237.28Z" fill="#db7100"/>
<path d="M140.29,231.51A257.73,257.73 0 0 1 140.51,230.10L167.36,234.50A230.52,230.52 0 0 0 167.16,235.76Z" fill="#db7100"/>
<path d="M197.84,239.49A199.63,199.63 0 0 1 206.09,206.76L240.73,218.68A163.00,163.00 0 0 0 233.99,245.41Z" fill="#599e59"/>
<path d="M167.36,234.50A230.52,230.52 0 0 1 176.89,196.70L206.09,206.76A199.63,199.63 0 0 0 197.84,239.49Z" fill="#487ea4"/>
<path d="M140.59,229.66A257.73,257.73 0 0 1 142.94,217.29L169.54,223.04A230.52,230.52 0 0 0 167.43,234.10Z" fill="#487ea4"/>
<path d="M142.94,217.29A257.73,257.73 0 0 1 145.11,208.09L171.48,214.81A230.52,230.52 0 0 0 169.54,223.04Z" fill="#487ea4"/>
<path d="M145.11,208.09A257.73,257.73 0 0 1 147.48,199.41L173.60,207.05A230.52,230.52 0 0 0 171.48,214.81Z" fill="#db7100"/>
<path d="M147.48,199.41A257.73,257.73 0 0 1 149.46,192.96L175.37,201.28A230.52,230.52 0 0 0 173.60,207.05Z" fill="#487ea4"/>
<path d="M149.46,192.96A257.73,257.73 0 0 1 150.30,190.40L176.12,198.99A230.52,230.52 0 0 0 175.37,201.28Z" fill="#db7100"/>
<path d="M150.30,190.40A257.73,257.73 0 0 1 151.17,187.84L176.89,196.70A230.52,230.52 0 0 0 176.12,198.99Z" fill="#487ea4"/>
<path d="M116.40,225.15A282.32,282.32 0 0 1 116.81,222.72L141.04,227.00A257.73,257.73 0 0 0 140.66,229.21Z" fill="#db7100"/>
<path d="M116.81,222.72A282.32,282.32 0 0 1 117.53,218.85L141.69,223.46A257.73,257.73 0 0 0 141.04,227.00Z" fill="#fff"/>
<path d="M118.59,213.53A282.32,282.32 0 0 1 119.11,211.13L143.14,216.41A257.73,257.73 0 0 0 142.66,218.61Z" fill="#db7100"/>
<path d="M119.16,210.88A282.32,282.32 0 0 1 119.71,208.48L143.68,213.99A257.73,257.73 0 0 0 143.18,216.19Z" fill="#db7100"/>
<path d="M119.71,208.48A282.32,282.32 0 0 1 120.21,206.32L144.14,212.02A257.73,257.73 0 0 0 143.68,213.99Z" fill="#fff"/>
<path d="M123.60,193.46A282.32,282.32 0 0 1 125.44,187.32L148.92,194.68A257.73,257.73 0 0 0 147.23,200.28Z" fill="#db7100"/>
<path d="M126.34,184.51A282.32,282.32 0 0 1 127.27,181.70L150.59,189.55A257.73,257.73 0 0 0 149.74,192.11Z" fill="#fff"/>
<path d="M206.09,206.76A199.63,199.63 0 0 1 216.98,181.12L249.62,197.75A163.00,163.00 0 0 0 240.73,218.68Z" fill="#599e59"/>
<path d="M176.89,196.70A230.52,230.52 0 0 1 189.46,167.10L216.98,181.12A199.63,199.63 0 0 0 206.09,206.76Z" fill="#487ea4"/>
<path d="M151.46,186.99A257.73,257.73 0 0 1 153.13,182.34L178.65,191.78A230.52,230.52 0 0 0 177.16,195.94Z" fill="#db7100"/>
<path d="M153.13,182.34A257.73,257.73 0 0 1 154.32,179.18L179.72,188.95A230.52,230.52 0 0 0 178.65,191.78Z" fill="#db7100"/>
<path d="M154.32,179.18A257.73,257.73 0 0 1 155.47,176.25L180.74,186.33A230.52,230.52 0 0 0 179.72,188.95Z" fill="#db7100"/>
<path d="M155.47,176.25A257.73,257.73 0 0 1 156.49,173.75L181.65,184.09A230.52,230.52 0 0 0 180.74,186.33Z" fill="#db7100"/>
<path d="M156.49,173.75A257.73,257.73 0 0 1 157.44,171.46L182.50,182.05A230.52,230.52 0 0 0 181.65,184.09Z" fill="#db7100"/>
<path d="M157.44,171.46A257.73,257.73 0 0 1 158.14,169.81L183.13,180.57A230.52,230.52 0 0 0 182.50,182.05Z" fill="#db7100"/>
<path d="M158.14,169.81A257.73,257.73 0 0 1 158.68,168.57L183.61,179.46A230.52,230.52 0 0 0 183.13,180.57Z" fill="#db7100"/>
<path d="M158.68,168.57A257.73,257.73 0 0 1 159.13,167.54L184.02,178.54A230.52,230.52 0 0 0 183.61,179.46Z" fill="#db7100"/>
<path d="M159.13,167.54A257.73,257.73 0 0 1 159.55,166.60L184.39,177.70A230.52,230.52 0 0 0 184.02,178.54Z" fill="#db7100"/>
<path d="M159.55,166.60A257.73,257.73 0 0 1 159.96,165.69L184.76,176.89A230.52,230.52 0 0 0 184.39,177.70Z" fill="#db7100"/>
<path d="M216.98,181.12A199.63,199.63 0 0 1 227.80,162.44L258.46,182.50A163.00,163.00 0 0 0 249.62,197.75Z" fill="#599e59"/>
<path d="M189.46,167.10A230.52,230.52 0 0 1 201.96,145.53L227.80,162.44A199.63,199.63 0 0 0 216.98,181.12Z" fill="#487ea4"/>
<path d="M165.83,153.54A257.73,257.73 0 0 1 170.32,145.23L194.02,158.59A230.52,230.52 0 0 0 190.01,166.02Z" fill="#db7100"/>
<path d="M170.32,145.23A257.73,257.73 0 0 1 173.70,139.40L197.05,153.37A230.52,230.52 0 0 0 194.02,158.59Z" fill="#db7100"/>
<path d="M173.70,139.40A257.73,257.73 0 0 1 174.71,137.74L197.95,151.89A230.52,230.52 0 0 0 197.05,153.37Z" fill="#db7100"/>
<path d="M174.71,137.74A257.73,257.73 0 0 1 175.64,136.22L198.78,150.53A230.52,230.52 0 0 0 197.95,151.89Z" fill="#db7100"/>
<path d="M175.64,136.22A257.73,257.73 0 0 1 176.50,134.84L199.55,149.30A230.52,230.52 0 0 0 198.78,150.53Z" fill="#db7100"/>
<path d="M176.50,134.84A257.73,257.73 0 0 1 177.29,133.58L200.26,148.17A230.52,230.52 0 0 0 199.55,149.30Z" fill="#db7100"/>
<path d="M177.29,133.58A257.73,257.73 0 0 1 178.02,132.43L200.92,147.14A230.52,230.52 0 0 0 200.26,148.17Z" fill="#db7100"/>
<path d="M178.02,132.43A257.73,257.73 0 0 1 178.70,131.38L201.52,146.20A230.52,230.52 0 0 0 200.92,147.14Z" fill="#db7100"/>
<path d="M227.80,162.44A199.63,199.63 0 0 1 238.40,147.75L267.11,170.50A163.00,163.00 0 0 0 258.46,182.50Z" fill="#599e59"/>
<path d="M201.96,145.53A230.52,230.52 0 0 1 214.20,128.56L238.40,147.75A199.63,199.63 0 0 0 227.80,162.44Z" fill="#487ea4"/>
<path d="M179.69,129.88A257.73,257.73 0 0 1 190.93,114.14L212.46,130.78A230.52,230.52 0 0 0 202.40,144.85Z" fill="#487ea4"/>
<path d="M190.93,114.14A257.73,257.73 0 0 1 192.59,112.02L213.95,128.88A230.52,230.52 0 0 0 212.46,130.78Z" fill="#487ea4"/>
<path d="M159.15,116.34A282.32,282.32 0 0 1 169.97,101.06L189.56,115.93A257.73,257.73 0 0 0 179.69,129.88Z" fill="#db7100"/>
<path d="M170.12,100.86A282.32,282.32 0 0 1 171.92,98.52L191.34,113.61A257.73,257.73 0 0 0 189.70,115.75Z" fill="#db7100"/>
<path d="M238.62,147.48A199.63,199.63 0 0 1 241.92,143.43L269.98,166.98A163.00,163.00 0 0 0 267.28,170.28Z" fill="#db7100"/>
<path d="M214.45,128.25A230.52,230.52 0 0 1 218.26,123.58L241.92,143.43A199.63,199.63 0 0 0 238.62,147.48Z" fill="#db7100"/>
<path d="M241.92,143.43A199.63,199.63 0 0 1 245.10,139.73L272.58,163.96A163.00,163.00 0 0 0 269.98,166.98Z" fill="#db7100"/>
<path d="M218.26,123.58A230.52,230.52 0 0 1 221.94,119.31L245.10,139.73A199.63,199.63 0 0 0 241.92,143.43Z" fill="#db7100"/>
<path d="M245.10,139.73A199.63,199.63 0 0 1 248.85,135.60L275.64,160.58A163.00,163.00 0 0 0 272.58,163.96Z" fill="#599e59"/>
<path d="M221.94,119.31A230.52,230.52 0 0 1 226.26,114.54L248.85,135.60A199.63,199.63 0 0 0 245.10,139.73Z" fill="#db7100"/>
<path d="M248.85,135.60A199.63,199.63 0 0 1 251.97,132.32L278.19,157.91A163.00,163.00 0 0 0 275.64,160.58Z" fill="#db7100"/>
<path d="M226.26,114.54A230.52,230.52 0 0 1 229.87,110.75L251.97,132.32A199.63,199.63 0 0 0 248.85,135.60Z" fill="#db7100"/>
<path d="M251.97,132.32A199.63,199.63 0 0 1 254.93,129.36L280.60,155.49A163.00,163.00 0 0 0 278.19,157.91Z" fill="#db7100"/>
<path d="M229.87,110.75A230.52,230.52 0 0 1 233.28,107.33L254.93,129.36A199.63,199.63 0 0 0 251.97,132.32Z" fill="#db7100"/>
<path d="M254.93,129.36A199.63,199.63 0 0 1 257.68,126.70L282.85,153.32A163.00,163.00 0 0 0 280.60,155.49Z" fill="#db7100"/>
<path d="M233.28,107.33A230.52,230.52 0 0 1 236.46,104.26L257.68,126.70A199.63,199.63 0 0 0 254.93,129.36Z" fill="#db7100"/>
<path d="M257.68,126.70A199.63,199.63 0 0 1 259.47,125.04L284.31,151.96A163.00,163.00 0 0 0 282.85,153.32Z" fill="#db7100"/>
<path d="M236.46,104.26A230.52,230.52 0 0 1 238.52,102.34L259.47,125.04A199.63,199.63 0 0 0 257.68,126.70Z" fill="#db7100"/>
<path d="M259.47,125.04A199.63,199.63 0 0 1 261.53,123.16L285.99,150.43A163.00,163.00 0 0 0 284.31,151.96Z" fill="#599e59"/>
<path d="M238.52,102.34A230.52,230.52 0 0 1 240.90,100.17L261.53,123.16A199.63,199.63 0 0 0 259.47,125.04Z" fill="#487ea4"/>
<path d="M220.24,82.19A257.73,257.73 0 0 1 222.57,80.07L240.75,100.31A230.52,230.52 0 0 0 238.67,102.20Z" fill="#db7100"/>
<path d="M261.53,123.16A199.63,199.63 0 0 1 262.99,121.86L287.18,149.37A163.00,163.00 0 0 0 285.99,150.43Z" fill="#599e59"/>
<path d="M262.99,121.86A199.63,199.63 0 0 1 264.38,120.65L288.32,148.38A163.00,163.00 0 0 0 287.18,149.37Z" fill="#599e59"/>
<path d="M264.38,120.65A199.63,199.63 0 0 1 265.70,119.52L289.40,147.45A163.00,163.00 0 0 0 288.32,148.38Z" fill="#599e59"/>
<path d="M265.70,119.52A199.63,199.63 0 0 1 266.96,118.46L290.42,146.59A163.00,163.00 0 0 0 289.40,147.45Z" fill="#599e59"/>
<path d="M266.96,118.46A199.63,199.63 0 0 1 269.49,116.39L292.49,144.90A163.00,163.00 0 0 0 290.42,146.59Z" fill="#fff"/>
<path d="M240.90,100.17A230.52,230.52 0 0 1 242.59,98.68L262.99,121.86A199.63,199.63 0 0 0 261.53,123.16Z" fill="#db7100"/>
<path d="M242.59,98.68A230.52,230.52 0 0 1 244.20,97.28L264.38,120.65A199.63,199.63 0 0 0 262.99,121.86Z" fill="#db7100"/>
<path d="M244.20,97.28A230.52,230.52 0 0 1 245.72,95.97L265.70,119.52A199.63,199.63 0 0 0 264.38,120.65Z" fill="#db7100"/>
<path d="M245.72,95.97A230.52,230.52 0 0 1 247.17,94.75L266.96,118.46A199.63,199.63 0 0 0 265.70,119.52Z" fill="#db7100"/>
<path d="M247.17,94.75A230.52,230.52 0 0 1 250.09,92.35L269.49,116.39A199.63,199.63 0 0 0 266.96,118.46Z" fill="#fff"/>
<path d="M232.31,71.74A257.73,257.73 0 0 1 233.71,70.61L250.72,91.85A230.52,230.52 0 0 0 249.47,92.86Z" fill="#fff"/>
</svg>
<div class="t" id="n" style="top:231px;font-size:11.5px;font-weight:bold;">node_modules</div>
<div class="t" id="p" style="top:252.3px;font-size:28px;-webkit-text-stroke:0.35px #555;">90%</div>
<div class="t" id="b" style="top:281.7px;font-size:11.5px;-webkit-text-stroke:0.2px #555;">of bundle size</div>
<div class="t" id="s" style="top:303.5px;font-size:9.5px;-webkit-text-stroke:0.15px #555;">(1.2M)</div>
</body></html>
